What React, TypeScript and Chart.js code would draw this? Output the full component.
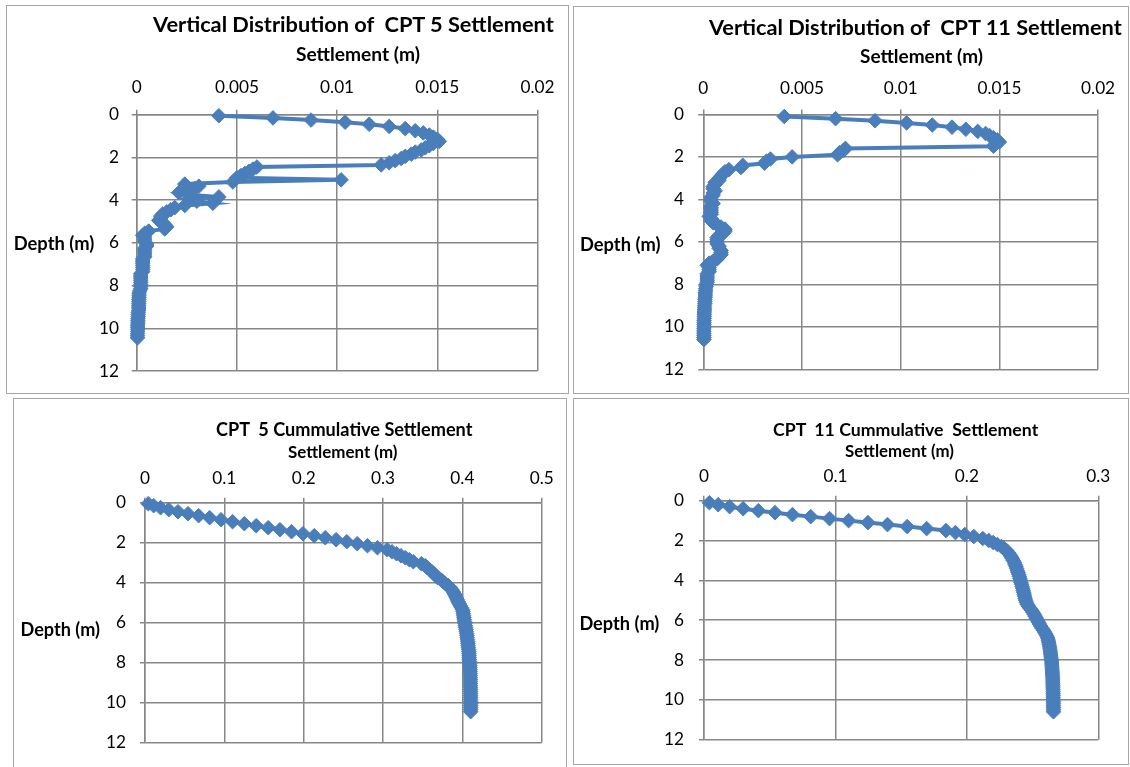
import React, { useEffect, useRef } from 'react';
import { Chart, registerables } from 'chart.js';

Chart.register(...registerables);

// ---------------- data ----------------
const depthCPT5 = [
  0.05, 0.15, 0.25, 0.35, 0.45, 0.55, 0.65, 0.75, 0.85, 0.95,
  1.05, 1.15, 1.25, 1.35, 1.45, 1.55, 1.65, 1.75, 1.85, 1.95,
  2.05, 2.15, 2.25, 2.35, 2.45, 2.55, 2.65, 2.75, 2.85, 2.95,
  3.05, 3.15, 3.25, 3.35, 3.45, 3.55, 3.65, 3.75, 3.85, 3.95,
  4.05, 4.15, 4.25, 4.35, 4.45, 4.55, 4.65, 4.75, 4.85, 4.95,
  5.05, 5.15, 5.25, 5.35, 5.45, 5.55, 5.65, 5.75, 5.85, 5.95,
  6.05, 6.15, 6.25, 6.35, 6.45, 6.55, 6.65, 6.75, 6.85, 6.95,
  7.05, 7.15, 7.25, 7.35, 7.45, 7.55, 7.65, 7.75, 7.85, 7.95,
  8.05, 8.15, 8.25, 8.35, 8.45, 8.55, 8.65, 8.75, 8.85, 8.95,
  9.05, 9.15, 9.25, 9.35, 9.45, 9.55, 9.65, 9.75, 9.85, 9.95,
  10.05, 10.15, 10.25, 10.35, 10.45,
];

const settlementCPT5 = [
  0.0041, 0.0068, 0.0087, 0.0104, 0.0116, 0.0126, 0.0134, 0.0139, 0.0143, 0.0146,
  0.0148, 0.0150, 0.0151, 0.0148, 0.0146, 0.0144, 0.0142, 0.0139, 0.0137, 0.0134,
  0.0132, 0.0129, 0.0126, 0.0122, 0.0060, 0.0058, 0.0056, 0.0054, 0.0052, 0.0050,
  0.0102, 0.0048, 0.0024, 0.0031, 0.0029, 0.0026, 0.0021, 0.0026, 0.0041, 0.0026,
  0.0030, 0.0038, 0.0024, 0.0019, 0.0017, 0.0015, 0.0013, 0.0012, 0.0012, 0.0011,
  0.0013, 0.0014, 0.0015, 0.0014, 0.0006, 0.0004, 0.0003, 0.0004, 0.0004, 0.0004,
  0.0005, 0.0005, 0.0004, 0.0004, 0.0004, 0.0004, 0.0004, 0.0003, 0.0003, 0.0003,
  0.0003, 0.0003, 0.0003, 0.0003, 0.0002, 0.0002, 0.0002, 0.0002, 0.0002, 0.0002,
  0.0002, 0.0002, 0.00015, 0.00012, 0.00012, 0.00012, 0.0001, 0.0001, 0.0001, 0.0001,
  0.0001, 0.0001, 0.00008, 0.00008, 0.00008, 0.00006, 0.00006, 0.00006, 0.00005, 0.00005,
  0.00005, 0.00005, 0.00004, 0.00004, 0.00004,
];

const cumulativeCPT5 = [
  0.0041, 0.0109, 0.0196, 0.0300, 0.0416, 0.0542, 0.0676, 0.0815, 0.0958, 0.1104,
  0.1252, 0.1402, 0.1553, 0.1701, 0.1847, 0.1991, 0.2133, 0.2272, 0.2409, 0.2543,
  0.2675, 0.2804, 0.2930, 0.3052, 0.3112, 0.3170, 0.3226, 0.3280, 0.3332, 0.3382,
  0.3484, 0.3532, 0.3556, 0.3587, 0.3616, 0.3642, 0.3663, 0.3689, 0.3730, 0.3756,
  0.3786, 0.3824, 0.3848, 0.3867, 0.3884, 0.3899, 0.3912, 0.3924, 0.3936, 0.3947,
  0.3960, 0.3974, 0.3989, 0.4003, 0.4009, 0.4013, 0.4016, 0.4020, 0.4024, 0.4028,
  0.4033, 0.4038, 0.4042, 0.4046, 0.4050, 0.4054, 0.4058, 0.4061, 0.4064, 0.4067,
  0.4070, 0.4073, 0.4076, 0.4079, 0.4081, 0.4083, 0.4085, 0.4087, 0.4089, 0.4091,
  0.4093, 0.4095, 0.4096, 0.4097, 0.4098, 0.4099, 0.4100, 0.4100, 0.4101, 0.4101,
  0.4102, 0.4102, 0.4103, 0.4103, 0.4103, 0.4104, 0.4104, 0.4104, 0.4104, 0.4105,
  0.4105, 0.4105, 0.4105, 0.4105, 0.4105,
];

const depthCPT11 = [
  0.1, 0.2, 0.3, 0.4, 0.5, 0.6, 0.7, 0.8, 0.9, 1.0,
  1.1, 1.2, 1.3, 1.4, 1.5, 1.6, 1.7, 1.8, 1.9, 2.0,
  2.1, 2.2, 2.3, 2.4, 2.5, 2.6, 2.7, 2.8, 2.9, 3.0,
  3.1, 3.2, 3.3, 3.4, 3.5, 3.6, 3.7, 3.8, 3.9, 4.0,
  4.1, 4.2, 4.3, 4.4, 4.5, 4.6, 4.7, 4.8, 4.9, 5.0,
  5.1, 5.2, 5.3, 5.4, 5.5, 5.6, 5.7, 5.8, 5.9, 6.0,
  6.1, 6.2, 6.3, 6.4, 6.5, 6.6, 6.7, 6.8, 6.9, 7.0,
  7.1, 7.2, 7.3, 7.4, 7.5, 7.6, 7.7, 7.8, 7.9, 8.0,
  8.1, 8.2, 8.3, 8.4, 8.5, 8.6, 8.7, 8.8, 8.9, 9.0,
  9.1, 9.2, 9.3, 9.4, 9.5, 9.6, 9.7, 9.8, 9.9, 10.0,
  10.1, 10.2, 10.3, 10.4, 10.5, 10.6,
];

const settlementCPT11 = [
  0.0041, 0.0067, 0.0087, 0.0103, 0.0116, 0.0126, 0.0133, 0.0139, 0.0143, 0.0145,
  0.0147, 0.0149, 0.0150, 0.0148, 0.0147, 0.0072, 0.0071, 0.0069, 0.0068, 0.0045,
  0.0034, 0.0032, 0.0031, 0.0020, 0.0019, 0.0013, 0.0011, 0.0010, 0.0009, 0.0008,
  0.0008, 0.0006, 0.0006, 0.0005, 0.0005, 0.0006, 0.0005, 0.0005, 0.0004, 0.0004,
  0.0004, 0.0005, 0.0004, 0.0004, 0.0004, 0.0004, 0.0004, 0.0003, 0.0004, 0.0004,
  0.0005, 0.0007, 0.0009, 0.0011, 0.0011, 0.0010, 0.0008, 0.0007, 0.0007, 0.0007,
  0.0007, 0.0008, 0.0008, 0.0009, 0.0009, 0.0009, 0.0008, 0.0007, 0.0005, 0.0003,
  0.0002, 0.0003, 0.0003, 0.0003, 0.0002, 0.0002, 0.0002, 0.0002, 0.0002, 0.00015,
  0.00015, 0.00012, 0.00012, 0.0001, 0.0001, 0.0001, 0.00008, 0.00008, 0.00008, 0.00006,
  0.00006, 0.00006, 0.00005, 0.00005, 0.00005, 0.00005, 0.00004, 0.00004, 0.00004, 0.00004,
  0.00003, 0.00003, 0.00003, 0.00003, 0.00003, 0.00003,
];

const cumulativeCPT11 = [
  0.0041, 0.0108, 0.0195, 0.0298, 0.0414, 0.0540, 0.0673, 0.0812, 0.0955, 0.1100,
  0.1247, 0.1396, 0.1546, 0.1694, 0.1841, 0.1913, 0.1984, 0.2053, 0.2121, 0.2166,
  0.2200, 0.2232, 0.2263, 0.2283, 0.2302, 0.2315, 0.2326, 0.2336, 0.2345, 0.2353,
  0.2361, 0.2367, 0.2373, 0.2378, 0.2383, 0.2389, 0.2394, 0.2399, 0.2403, 0.2407,
  0.2411, 0.2416, 0.2420, 0.2424, 0.2428, 0.2432, 0.2436, 0.2439, 0.2443, 0.2447,
  0.2452, 0.2459, 0.2468, 0.2480, 0.2492, 0.2503, 0.2512, 0.2520, 0.2528, 0.2536,
  0.2544, 0.2553, 0.2562, 0.2572, 0.2582, 0.2592, 0.2601, 0.2609, 0.2615, 0.2619,
  0.2622, 0.2625, 0.2628, 0.2631, 0.2633, 0.2635, 0.2637, 0.2639, 0.2641, 0.2643,
  0.2645, 0.2646, 0.2647, 0.2648, 0.2649, 0.2650, 0.2651, 0.2652, 0.2653, 0.2653,
  0.2654, 0.2654, 0.2655, 0.2655, 0.2656, 0.2656, 0.2656, 0.2657, 0.2657, 0.2657,
  0.2658, 0.2658, 0.2658, 0.2658, 0.2659, 0.2659,
];

const xTicksIncrement = ['0', '0.005', '0.01', '0.015', '0.02'];
const xTicksCumCPT5 = ['0', '0.1', '0.2', '0.3', '0.4', '0.5'];
const xTicksCumCPT11 = ['0', '0.1', '0.2', '0.3'];
const yTicksDepth = ['0', '2', '4', '6', '8', '10', '12'];

const titleCPT5 = 'Vertical Distribution of  CPT 5 Settlement';
const titleCPT11 = 'Vertical Distribution of  CPT 11 Settlement';
const titleCumCPT5 = 'CPT  5 Cummulative Settlement';
const titleCumCPT11 = 'CPT  11 Cummulative  Settlement';
const xAxisTitle = 'Settlement (m)';
const yAxisTitle = 'Depth (m)';

// ---------------- styling / layout ----------------
const FONT = 'Lato';
const BLUE = '#4A7EBB';
const GRID = '#878787';
const BORDER = '#a6a6a6';

let measureCtx: CanvasRenderingContext2D | null = null;
function measure(font: string, text: string) {
  if (!measureCtx) measureCtx = document.createElement('canvas').getContext('2d');
  measureCtx!.font = font;
  return measureCtx!.measureText(text);
}
function fitSize(text: string, weight: string, target: number) {
  const m = measure(`${weight} 100px ${FONT}`, text);
  return (100 * target) / m.width;
}

const PANELS = [
  {
    key: 'tl', box: { x: 6, y: 5, w: 563, h: 389 },
    depth: depthCPT5, values: settlementCPT5, xMax: 0.02, xStep: 0.005, xLabels: xTicksIncrement,
    yW: 130.7, xH: 109.7, padR: 31.5, padB: 22.5, xPad: 12, yPad: 12.7,
  },
  {
    key: 'tr', box: { x: 573, y: 6, w: 556, h: 388 },
    depth: depthCPT11, values: settlementCPT11, xMax: 0.02, xStep: 0.005, xLabels: xTicksIncrement,
    yW: 130.3, xH: 108.4, padR: 30.9, padB: 22.8, xPad: 10.6, yPad: 14.3,
  },
  {
    key: 'bl', box: { x: 13, y: 398, w: 554, h: 369 },
    depth: depthCPT5, values: cumulativeCPT5, xMax: 0.5, xStep: 0.1, xLabels: xTicksCumCPT5,
    yW: 132, xH: 104.7, padR: 25.3, padB: 13.7, xPad: 9.4, yPad: 14,
  },
  {
    key: 'br', box: { x: 573, y: 398, w: 556, h: 367 },
    depth: depthCPT11, values: cumulativeCPT11, xMax: 0.3, xStep: 0.1, xLabels: xTicksCumCPT11,
    yW: 131, xH: 102.7, padR: 30.7, padB: 20.3, xPad: 9.4, yPad: 15,
  },
];

const LABELS = [
  { text: titleCPT5, x: 153, w: 402, base: 32 },
  { text: xAxisTitle, x: 296, w: 124, base: 61 },
  { text: yAxisTitle, x: 13.7, w: 80.7, base: 249.5 },
  { text: titleCPT11, x: 709, w: 414, base: 35 },
  { text: xAxisTitle, x: 860, w: 123, base: 62.5 },
  { text: yAxisTitle, x: 580, w: 80.5, base: 250.5 },
  { text: titleCumCPT5, x: 216, w: 257, base: 435.5 },
  { text: xAxisTitle, x: 288, w: 109.5, base: 457.5 },
  { text: yAxisTitle, x: 20.5, w: 79.5, base: 635.5 },
  { text: titleCumCPT11, x: 773, w: 266, base: 435.5 },
  { text: xAxisTitle, x: 845, w: 109, base: 456.5 },
  { text: yAxisTitle, x: 579.4, w: 80, base: 629.5 },
];

function labelFor(list: string[], step: number, value: number) {
  const idx = Math.round(value / step);
  return list[idx] ?? '';
}

function Panel({ p }: { p: any }) {
  const ref = useRef<HTMLCanvasElement>(null);
  useEffect(() => {
    const tickSize = fitSize('0.005', '400', 44);
    const gridOpts = { color: GRID, lineWidth: 1.5, tickLength: 5, tickColor: GRID };
    const chart = new Chart(ref.current as HTMLCanvasElement, {
      type: 'scatter',
      data: {
        datasets: [
          {
            data: p.values.map((v: number, i: number) => ({ x: v, y: p.depth[i] })),
            showLine: true,
            borderColor: BLUE,
            backgroundColor: BLUE,
            borderWidth: 4,
            pointStyle: 'rectRot',
            pointRadius: 7.3,
            pointBorderWidth: 1,
            pointBorderColor: BLUE,
            pointBackgroundColor: BLUE,
            tension: 0,
            clip: false,
          } as any,
        ],
      },
      options: {
        responsive: false,
        maintainAspectRatio: false,
        animation: false,
        devicePixelRatio: 1,
        events: [],
        layout: { padding: { left: 0, top: 0, right: p.padR, bottom: p.padB } },
        plugins: {
          legend: { display: false },
          tooltip: { enabled: false },
          title: { display: false },
        },
        scales: {
          x: {
            type: 'linear',
            position: 'top',
            min: 0,
            max: p.xMax,
            ticks: {
              stepSize: p.xStep,
              padding: p.xPad,
              color: '#000',
              font: { family: FONT, size: tickSize },
              maxRotation: 0,
              autoSkip: false,
              callback: (v: number) => labelFor(p.xLabels, p.xStep, v),
            },
            grid: gridOpts,
            border: { color: GRID, width: 1.5 },
            afterFit: (s: any) => { s.height = p.xH; },
          },
          y: {
            type: 'linear',
            reverse: true,
            min: 0,
            max: 12,
            ticks: {
              stepSize: 2,
              padding: p.yPad,
              color: '#000',
              font: { family: FONT, size: tickSize },
              autoSkip: false,
              callback: (v: number) => labelFor(yTicksDepth, 2, v),
            },
            grid: gridOpts,
            border: { color: GRID, width: 1.5 },
            afterFit: (s: any) => { s.width = p.yW; },
          },
        },
      } as any,
    });
    return () => chart.destroy();
  }, []);
  return (
    <canvas
      ref={ref}
      width={p.box.w}
      height={p.box.h}
      style={{ position: 'absolute', left: p.box.x, top: p.box.y, width: p.box.w, height: p.box.h }}
    />
  );
}

function Label({ l }: { l: any }) {
  const size = fitSize(l.text, '700', l.w);
  const m = measure(`700 ${size}px ${FONT}`, l.text);
  const asc = m.fontBoundingBoxAscent;
  const desc = m.fontBoundingBoxDescent;
  return (
    <div
      style={{
        position: 'absolute',
        left: l.x,
        top: l.base - asc,
        font: `700 ${size}px ${FONT}`,
        lineHeight: `${asc + desc}px`,
        whiteSpace: 'pre',
        color: '#000',
      }}
    >
      {l.text}
    </div>
  );
}

export default function App() {
  return (
    <div
      style={{
        position: 'absolute', left: 0, top: 0, width: 1130, height: 767,
        overflow: 'hidden', background: '#fff',
      }}
    >
      {PANELS.map((p) => (
        <Panel key={p.key} p={p} />
      ))}
      {PANELS.map((p) => (
        <div
          key={p.key + '-box'}
          style={{
            position: 'absolute', left: p.box.x, top: p.box.y, width: p.box.w,
            height: p.key === 'bl' ? p.box.h + 10 : p.box.h,
            boxSizing: 'border-box', border: `1px solid ${BORDER}`, pointerEvents: 'none',
          }}
        />
      ))}
      {LABELS.map((l, i) => (
        <Label key={i} l={l} />
      ))}
    </div>
  );
}
